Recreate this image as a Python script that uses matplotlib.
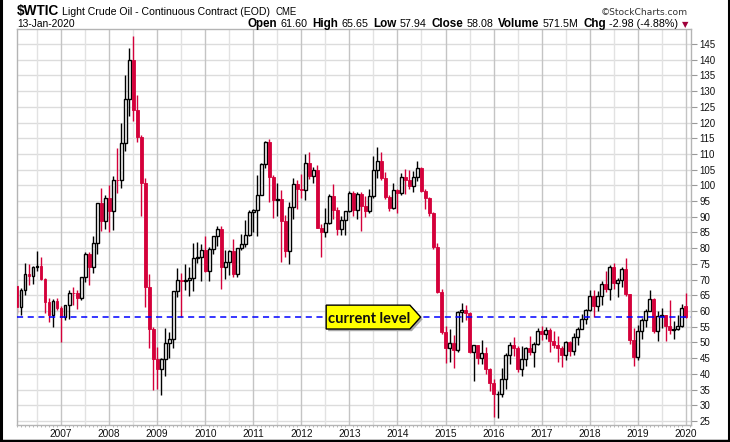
import matplotlib
matplotlib.use("Agg")
import matplotlib.pyplot as plt
from matplotlib.patches import Rectangle, Polygon
from matplotlib.lines import Line2D
import numpy as np

# monthly candles, Feb 2006 .. Jan 2020 (continuous contract)
opens = [
    67.9, 61.4, 66.6, 71.9, 71.3, 73.9, 74.4, 70.3, 62.9, 58.7, 63.1,
    61.1, 58.1, 61.8, 65.9, 65.7, 64.0, 70.7, 78.2, 74.0, 81.7, 94.5, 88.7,
    96.0, 91.75, 101.8, 101.6, 113.5, 127.35, 140.0, 124.1, 115.5, 100.6, 67.8, 54.4,
    44.6, 41.7, 44.8, 49.7, 51.1, 66.3, 69.9, 69.45, 70.0, 70.6, 77.0, 77.3,
    79.4, 72.9, 79.7, 83.8, 86.2, 74.0, 75.6, 79.0, 71.9, 80.0, 81.4, 84.1,
    91.4, 92.2, 97.0, 106.7, 113.9, 102.7, 95.4, 95.7, 88.8, 79.2, 93.2, 100.4,
    98.8, 98.5, 107.1, 103.0, 104.9, 86.5, 85.0, 88.1, 96.5, 92.2, 86.2, 88.9,
    91.8, 97.5, 92.05, 97.2, 93.5, 92.0, 96.6, 105.0, 107.65, 102.3, 96.4, 92.7,
    98.4, 97.5, 102.6, 101.6, 99.7, 102.7, 105.4, 98.2, 96.0, 91.2, 80.5, 66.15,
    53.3, 48.2, 49.8, 47.6, 59.6, 60.3, 59.5, 47.1, 49.2, 45.1, 46.6, 41.65,
    37.0, 33.6, 33.75, 38.3, 45.9, 49.1, 48.3, 41.6, 44.7, 48.2, 46.9, 49.4,
    53.7, 52.8, 54.0, 50.6, 49.3, 48.3, 46.0, 50.2, 47.2, 51.7, 54.4, 57.4,
    60.4, 64.7, 61.6, 64.9, 68.6, 67.0, 74.15, 68.8, 69.8, 73.25, 65.3, 50.9,
    45.4, 53.8, 57.2, 60.1, 63.9, 53.5, 58.5, 58.6, 55.1, 54.1, 54.2, 55.2,
    61.6,
]
highs = [
    68.4, 67.4, 75.2, 75.0, 74.2, 79.0, 77.1, 70.4, 64.0, 63.9, 64.2,
    61.5, 62.0, 66.7, 67.8, 66.6, 70.7, 78.8, 78.8, 83.9, 94.5, 99.3, 96.8,
    100.1, 103.0, 111.8, 119.9, 135.1, 143.6, 147.5, 128.8, 116.0, 102.5, 71.8, 55.0,
    48.5, 45.0, 54.5, 53.4, 66.5, 73.6, 72.0, 75.0, 74.0, 81.8, 82.0, 81.4,
    83.95, 80.5, 83.85, 87.15, 87.0, 79.4, 79.4, 83.0, 80.1, 84.4, 89.0, 92.1,
    92.6, 103.4, 107.0, 114.2, 114.8, 103.4, 100.6, 98.4, 90.5, 94.7, 102.4, 101.8,
    103.7, 109.95, 110.55, 106.0, 106.4, 87.7, 92.9, 97.35, 100.4, 93.2, 90.3, 92.0,
    98.2, 98.2, 97.8, 97.8, 96.6, 99.0, 109.3, 112.2, 110.7, 104.2, 97.0, 100.75,
    99.0, 103.8, 105.2, 105.0, 104.5, 107.7, 106.0, 98.8, 96.2, 91.5, 81.8, 67.0,
    55.1, 54.2, 52.5, 59.9, 62.6, 61.8, 59.7, 49.3, 49.3, 50.9, 48.4, 41.9,
    38.4, 34.7, 41.9, 46.8, 50.2, 51.7, 49.0, 48.75, 48.4, 51.9, 50.0, 54.5,
    55.2, 54.9, 54.6, 53.8, 52.0, 48.9, 50.4, 50.5, 52.9, 54.9, 59.05, 60.5,
    66.7, 66.7, 66.5, 69.55, 72.9, 74.5, 75.3, 70.4, 74.0, 76.9, 65.4, 54.55,
    55.4, 57.8, 60.7, 66.6, 64.0, 59.9, 60.9, 58.8, 63.4, 56.9, 58.8, 62.3,
    65.65,
]
lows = [
    59.5, 58.7, 65.0, 68.3, 68.6, 72.6, 69.8, 59.5, 56.6, 55.0, 60.3,
    50.3, 57.0, 57.5, 62.0, 60.6, 63.6, 69.4, 68.3, 72.0, 78.0, 85.6, 86.0,
    85.2, 85.8, 97.5, 99.1, 111.0, 122.0, 120.4, 113.9, 90.4, 61.2, 48.2, 34.9,
    35.1, 33.3, 39.3, 45.1, 48.3, 64.6, 58.0, 66.8, 64.8, 66.4, 75.2, 69.5,
    72.4, 69.5, 78.0, 80.8, 66.9, 70.1, 71.4, 70.8, 70.8, 79.4, 80.5, 84.0,
    85.1, 83.85, 96.9, 105.5, 94.6, 89.6, 90.3, 75.7, 77.1, 74.95, 89.2, 92.5,
    96.1, 95.4, 102.1, 100.7, 86.4, 77.3, 83.65, 87.6, 89.4, 84.1, 84.05, 84.3,
    91.5, 90.1, 89.3, 85.6, 89.9, 91.1, 96.1, 102.2, 101.8, 95.6, 91.8, 92.5,
    91.2, 96.9, 97.4, 98.7, 98.0, 101.55, 97.9, 92.5, 90.4, 79.8, 65.7, 52.7,
    43.6, 43.9, 42.0, 47.0, 56.5, 57.0, 46.7, 37.75, 43.2, 43.0, 40.0, 34.5,
    26.2, 26.05, 32.6, 35.2, 43.0, 45.8, 40.6, 39.2, 42.5, 46.1, 42.2, 49.3,
    50.7, 51.2, 47.1, 48.2, 43.8, 42.05, 44.4, 45.6, 46.0, 49.1, 54.2, 55.8,
    59.9, 58.1, 59.95, 61.8, 66.1, 63.6, 67.0, 64.4, 67.6, 64.9, 49.4, 42.4,
    44.35, 51.2, 55.0, 60.0, 53.0, 50.6, 54.7, 50.5, 52.8, 50.99, 54.0, 55.0,
    57.94,
]
closes = [
    61.4, 66.6, 71.9, 71.3, 73.9, 74.4, 70.3, 62.9, 58.7, 63.1, 61.1,
    58.1, 61.8, 65.9, 65.7, 64.0, 70.7, 78.2, 74.0, 81.7, 94.5, 88.7, 96.0,
    91.75, 101.8, 101.6, 113.5, 127.35, 140.0, 124.1, 115.5, 100.6, 67.8, 54.4, 44.6,
    41.7, 44.8, 49.7, 51.1, 66.3, 69.9, 69.45, 70.0, 70.6, 77.0, 77.3, 79.4,
    72.9, 79.7, 83.8, 86.2, 74.0, 75.6, 79.0, 71.9, 80.0, 81.4, 84.1, 91.4,
    92.2, 97.0, 106.7, 113.9, 102.7, 95.4, 95.7, 88.8, 79.2, 93.2, 100.4, 98.8,
    98.5, 107.1, 103.0, 104.9, 86.5, 85.0, 88.1, 96.5, 92.2, 86.2, 88.9, 91.8,
    97.5, 92.05, 97.2, 93.5, 92.0, 96.6, 105.0, 107.65, 102.3, 96.4, 92.7, 98.4,
    97.5, 102.6, 101.6, 99.7, 102.7, 105.4, 98.2, 96.0, 91.2, 80.5, 66.15, 53.3,
    48.2, 49.8, 47.6, 59.6, 60.3, 59.5, 47.1, 49.2, 45.1, 46.6, 41.65, 37.0,
    33.6, 33.75, 38.3, 45.9, 49.1, 48.3, 41.6, 44.7, 48.2, 46.9, 49.4, 53.7,
    52.8, 54.0, 50.6, 49.3, 48.3, 46.0, 50.2, 47.2, 51.7, 54.4, 57.4, 60.4,
    64.7, 61.6, 64.9, 68.6, 67.0, 74.15, 68.8, 69.8, 73.25, 65.3, 50.9, 45.4,
    53.8, 57.2, 60.1, 63.9, 53.5, 58.5, 58.6, 55.1, 54.1, 54.2, 55.2, 61.1,
    58.08,
]

years = list(range(2007, 2021))
first_jan = 11  # index of Jan 2007 in the series
current_level = 58.08

header_title = "$WTIC"
header_desc = "Light Crude Oil - Continuous Contract (EOD)"
header_date = "13-Jan-2020"
quote_parts = [("Open", "61.60"), ("High", "65.65"), ("Low", "57.94"),
               ("Close", "58.08"), ("Volume", "571.5M"), ("Chg", "-2.98 (-4.88%)")]

RED = "#d4003a"
W, H = 730, 442

plt.rcParams["font.family"] = ["Liberation Sans", "DejaVu Sans"]
fig = plt.figure(figsize=(W / 100, H / 100), dpi=100)
ax = fig.add_axes([17 / W, (H - 425) / H, (691 - 17) / W, (425 - 29) / H])

# grid
for v in range(25, 150, 5):
    ax.axhline(v, color="#dcdcdc", lw=1, zorder=0)
for k in range(len(years)):
    ax.axvline(first_jan + 12 * k, color="#c4c4c4", lw=1, zorder=0)
    ax.axvline(first_jan - 6 + 12 * k, color="#e2e2e2", lw=1, zorder=0)

# candles
bw = 0.72
for i, (o, h, l, c) in enumerate(zip(opens, highs, lows, closes)):
    if c >= o:
        ax.vlines(i, l, h, color="black", lw=1, zorder=2)
        ax.add_patch(Rectangle((i - bw / 2, o), bw, c - o, facecolor="white",
                               edgecolor="black", lw=1, zorder=3))
    else:
        ax.vlines(i, l, h, color=RED, lw=1, zorder=2)
        ax.add_patch(Rectangle((i - bw / 2, c), bw, o - c, facecolor=RED,
                               edgecolor=RED, lw=0.6, zorder=3))

ax.axhline(current_level, color="#0000ff", lw=1.1, ls=(0, (4, 3)), zorder=4)

# "current level" callout
tip_x = 100.8
box_l, box_r, half = 77.2, 98.1, 3.8
shadow = Polygon([(box_l + 0.5, current_level - half - 0.7),
                  (box_r + 0.5, current_level - half - 0.7),
                  (tip_x + 0.5, current_level - 0.7),
                  (box_r + 0.5, current_level + half - 0.7),
                  (box_l + 0.5, current_level + half - 0.7)],
                 closed=True, facecolor="#a8a8a8", edgecolor="none", zorder=5)
ax.add_patch(shadow)
callout = Polygon([(box_l, current_level - half), (box_r, current_level - half),
                   (tip_x, current_level), (box_r, current_level + half),
                   (box_l, current_level + half)],
                  closed=True, facecolor="#ffff00", edgecolor="black", lw=1, zorder=6)
ax.add_patch(callout)
ax.text((box_l + box_r) / 2 + 0.3, current_level, "current level", ha="center",
        va="center_baseline", fontsize=10.5, fontweight="bold", family="Lato",
        color="#111111", zorder=7)

ax.set_xlim(0.0, 168.3)
ax.set_ylim(23.73, 149.77)

ax.yaxis.tick_right()
ax.set_yticks(range(25, 150, 5))
ax.tick_params(axis="y", length=4, width=0.8, color="#999999", labelsize=7,
               pad=2, labelcolor="#111111")
ax.set_xticks([first_jan + 12 * k for k in range(len(years))])
ax.set_xticklabels([str(y) for y in years])
ax.set_xticks(range(0, 169), minor=True)
ax.tick_params(axis="x", which="major", length=0, labelsize=7.3, pad=3,
               labelcolor="#111111")
ax.tick_params(axis="x", which="minor", length=1.5, width=0.6, color="#aaaaaa")
ax.tick_params(axis="y", which="minor", length=0)
for s in ax.spines.values():
    s.set_color("#b4b4b4")
    s.set_linewidth(1)

# header
fy = lambda py: 1 - py / H
fig.text(17 / W, fy(15), header_title, fontsize=9.8, fontweight="bold", va="baseline")
fig.text(62 / W, fy(15), header_desc, fontsize=7.6, va="baseline")
fig.text(276 / W, fy(15), "CME", fontsize=6.9, va="baseline")
fig.text(688 / W, fy(15), "\u00a9StockCharts.com", fontsize=6.6, va="baseline",
         ha="right", family="DejaVu Sans", color="#333333")
fig.text(17 / W, fy(27), header_date, fontsize=7.4, va="baseline")

renderer = fig.canvas.get_renderer()
x = 248
for label, val in quote_parts:
    t = fig.text(x / W, fy(27), label, fontsize=8.35, fontweight="bold", va="baseline")
    x = t.get_window_extent(renderer).x1 + 3
    t = fig.text(x / W, fy(27), val, fontsize=7.75, va="baseline")
    x = t.get_window_extent(renderer).x1 + 5
fig.text((x - 1) / W, fy(27), "\u25bc", fontsize=6, va="baseline", color="#a0003a",
         family="DejaVu Sans")

# outer frame (left, right, bottom)
fig.add_artist(Line2D([1 / W, 1 / W], [0, 1], color="black", lw=2.2))
fig.add_artist(Line2D([1 - 1 / W, 1 - 1 / W], [0, 1], color="black", lw=2.2))
fig.add_artist(Line2D([0, 1], [1.5 / H, 1.5 / H], color="black", lw=2.5))

fig.savefig("out.png", dpi=100)
